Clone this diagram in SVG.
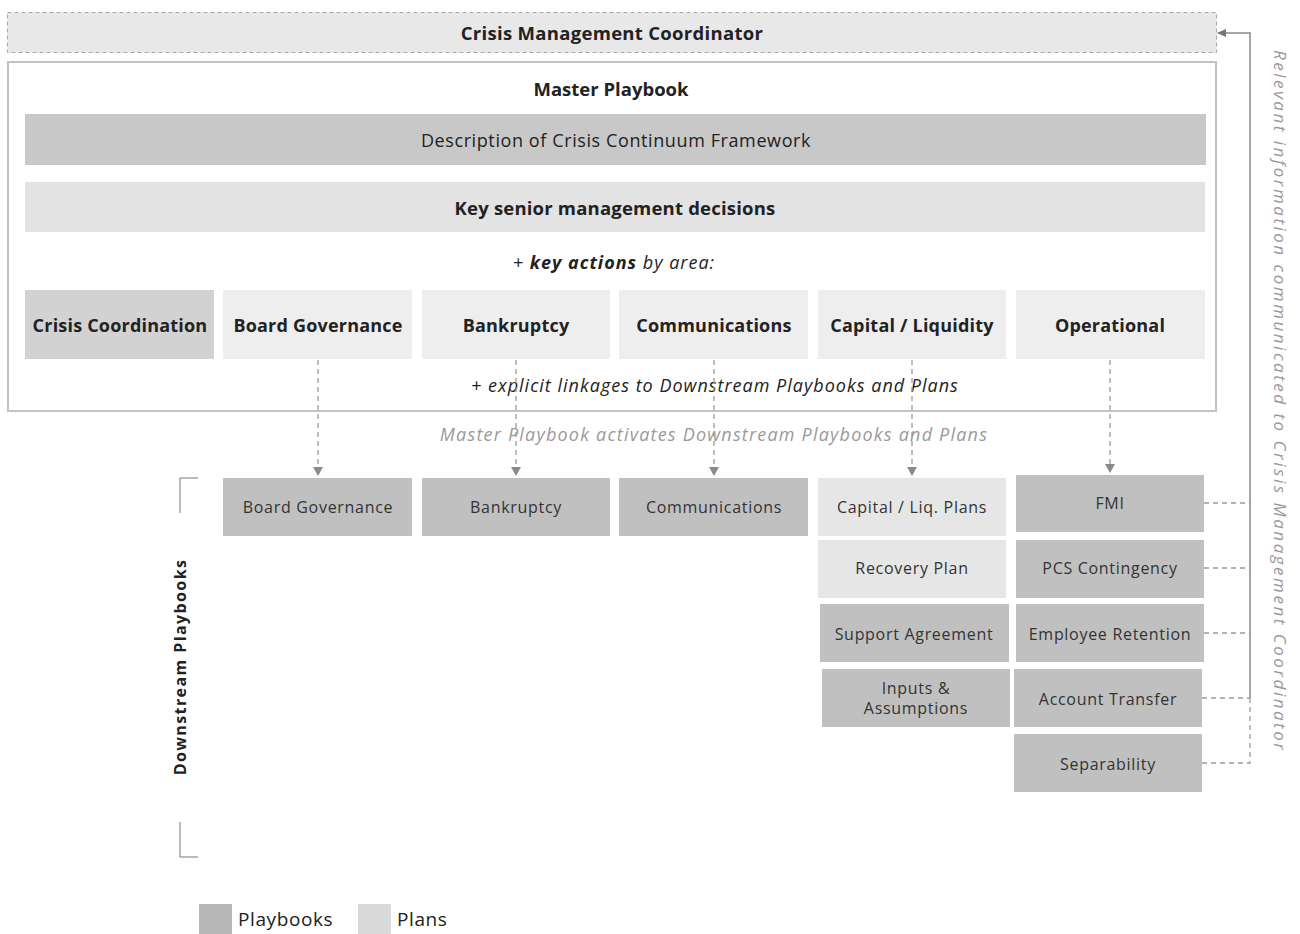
<svg xmlns="http://www.w3.org/2000/svg" width="1300" height="934" viewBox="0 0 1300 934">
<style>
text{font-family:"Open Sans","Liberation Sans",sans-serif;fill:#222;text-anchor:middle;dominant-baseline:central}
.b{font-weight:bold;font-size:18.5px}
.ab{font-weight:bold;font-size:18px;letter-spacing:0.2px}
.m{font-size:18px;letter-spacing:0.6px}
.it{font-style:italic;font-size:18px;letter-spacing:1px}
.d{font-size:16px;letter-spacing:0.7px;fill:#333}
.dark{fill:#c0c0c0}
.light{fill:#e6e6e6}
.area{fill:#eeeeee}
.dash{fill:none;stroke:#9a9a9a;stroke-width:1.3;stroke-dasharray:5 4}
</style>
<defs>
<marker id="ah" markerWidth="10" markerHeight="10" refX="8" refY="5" orient="auto" markerUnits="userSpaceOnUse">
<path d="M0,0 L9,5 L0,10 Z" fill="#8a8a8a"/>
</marker>
<marker id="ah2" markerWidth="10" markerHeight="10" refX="8" refY="5" orient="auto" markerUnits="userSpaceOnUse">
<path d="M0,1 L9,5 L0,9 Z" fill="#777"/>
</marker>
</defs>

<g id="coordinator">
<rect x="7.5" y="12.5" width="1209" height="40" fill="#e8e8e8" stroke="#a8a8a8" stroke-dasharray="4 3"/>
<text class="b" x="612" y="32" style="letter-spacing:0.3px">Crisis Management Coordinator</text>
</g>

<g id="master-playbook">
<rect x="8" y="62" width="1208" height="349" fill="#fff" stroke="#c2c2c2" stroke-width="2"/>
<text class="b" x="611" y="88">Master Playbook</text>
</g>
<g id="description">
<rect x="25" y="114" width="1181" height="51" fill="#c8c8c8"/>
<text class="m" x="616" y="140">Description of Crisis Continuum Framework</text>
</g>
<g id="key-decisions">
<rect x="25" y="182" width="1180" height="50" fill="#e3e3e3"/>
<text class="b" x="615" y="207" style="letter-spacing:0.2px">Key senior management decisions</text>
</g>
<text class="it" x="614" y="262">+ <tspan font-weight="bold">key actions</tspan> by area:</text>

<g id="area-crisis-coordination"><rect x="25" y="290" width="189" height="69" fill="#d2d2d2"/><text class="ab" x="120" y="325">Crisis Coordination</text></g>
<g id="area-board-governance"><rect class="area" x="223" y="290" width="189" height="69"/><text class="ab" x="318" y="325">Board Governance</text></g>
<g id="area-bankruptcy"><rect class="area" x="422" y="290" width="188" height="69"/><text class="ab" x="516" y="325">Bankruptcy</text></g>
<g id="area-communications"><rect class="area" x="619" y="290" width="189" height="69"/><text class="ab" x="714" y="325">Communications</text></g>
<g id="area-capital-liquidity"><rect class="area" x="818" y="290" width="188" height="69"/><text class="ab" x="912" y="325">Capital / Liquidity</text></g>
<g id="area-operational"><rect class="area" x="1016" y="290" width="189" height="69"/><text class="ab" x="1110" y="325">Operational</text></g>

<text class="it" x="715" y="385">+ explicit linkages to Downstream Playbooks and Plans</text>
<text class="it" x="714" y="434" style="fill:#9a9a9a;letter-spacing:1.2px">Master Playbook activates Downstream Playbooks and Plans</text>

<g id="connectors">
<path class="dash" d="M318,360 V475" marker-end="url(#ah)"/>
<path class="dash" d="M516,360 V475" marker-end="url(#ah)"/>
<path class="dash" d="M714,360 V475" marker-end="url(#ah)"/>
<path class="dash" d="M912,360 V475" marker-end="url(#ah)"/>
<path class="dash" d="M1110,360 V472" marker-end="url(#ah)"/>
<path class="dash" d="M1204,503 H1250"/>
<path class="dash" d="M1204,568 H1250"/>
<path class="dash" d="M1204,633 H1250"/>
<path class="dash" d="M1202,698 H1250"/>
<path class="dash" d="M1202,763 H1250 V698"/>
<path d="M1250,698 V33 H1218" fill="none" stroke="#8a8a8a" stroke-width="1.5" marker-end="url(#ah2)"/>
</g>

<g id="ds-board-governance"><rect class="dark" x="223" y="478" width="189" height="58"/><text class="d" x="318" y="507">Board Governance</text></g>
<g id="ds-bankruptcy"><rect class="dark" x="422" y="478" width="188" height="58"/><text class="d" x="516" y="507">Bankruptcy</text></g>
<g id="ds-communications"><rect class="dark" x="619" y="478" width="189" height="58"/><text class="d" x="714" y="507">Communications</text></g>
<g id="ds-capital-liq-plans"><rect class="light" x="818" y="478" width="188" height="58"/><text class="d" x="912" y="507">Capital / Liq. Plans</text></g>
<g id="ds-recovery-plan"><rect class="light" x="818" y="540" width="188" height="58"/><text class="d" x="912" y="568">Recovery Plan</text></g>
<g id="ds-support-agreement"><rect class="dark" x="820" y="604" width="189" height="58"/><text class="d" x="914" y="634">Support Agreement</text></g>
<g id="ds-inputs-assumptions"><rect class="dark" x="822" y="669" width="188" height="58"/><text class="d" x="916" y="688">Inputs &amp;</text><text class="d" x="916" y="708">Assumptions</text></g>
<g id="ds-fmi"><rect class="dark" x="1016" y="475" width="188" height="57"/><text class="d" x="1110" y="503">FMI</text></g>
<g id="ds-pcs-contingency"><rect class="dark" x="1016" y="540" width="188" height="58"/><text class="d" x="1110" y="568">PCS Contingency</text></g>
<g id="ds-employee-retention"><rect class="dark" x="1016" y="604" width="188" height="58"/><text class="d" x="1110" y="634">Employee Retention</text></g>
<g id="ds-account-transfer"><rect class="dark" x="1014" y="669" width="188" height="58"/><text class="d" x="1108" y="699">Account Transfer</text></g>
<g id="ds-separability"><rect class="dark" x="1014" y="734" width="188" height="58"/><text class="d" x="1108" y="764">Separability</text></g>

<g id="downstream-label">
<path d="M180,513 V478 H198 M180,822 V857 H198" fill="none" stroke="#777" stroke-width="1"/>
<text class="b" transform="translate(180,667) rotate(-90)" style="font-size:16px;letter-spacing:1.4px">Downstream Playbooks</text>
</g>

<text class="it" transform="translate(1280,400) rotate(90)" style="fill:#999;font-size:17px;letter-spacing:0" textLength="700" lengthAdjust="spacing">Relevant information communicated to Crisis Management Coordinator</text>

<g id="legend">
<rect x="199" y="904" width="33" height="30" fill="#b8b8b8"/>
<text x="238" y="919" style="text-anchor:start;font-size:19px;letter-spacing:0.6px">Playbooks</text>
<rect x="358" y="904" width="33" height="30" fill="#dadada"/>
<text x="397" y="919" style="text-anchor:start;font-size:19px;letter-spacing:0.6px">Plans</text>
</g>
</svg>
